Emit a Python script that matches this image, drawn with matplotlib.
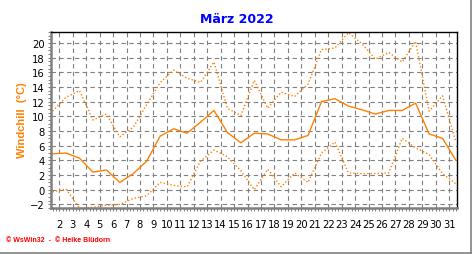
import numpy as np
import matplotlib
matplotlib.use("Agg")
from matplotlib import pyplot as plt
from matplotlib.ticker import MultipleLocator

# windchill per day, maerz 2022
days = np.arange(1, 32)
wc_mean = [4.9, 5.0, 4.3, 2.4, 2.7, 1.0, 2.2, 3.9, 7.3, 8.3, 7.7, 9.2, 10.8, 7.8, 6.4, 7.7,
           7.6, 6.8, 6.8, 7.4, 12.0, 12.4, 11.4, 10.9, 10.3, 10.8, 10.8, 11.8, 7.6, 7.0, 4.0]
wc_max = [10.7, 12.6, 13.5, 9.5, 10.3, 7.2, 8.5, 11.6, 14.6, 16.3, 15.2, 14.6, 17.4, 11.1, 10.1, 14.9,
          11.1, 13.3, 12.7, 14.4, 19.1, 19.3, 21.4, 19.9, 17.8, 18.7, 17.4, 20.2, 10.7, 12.8, 6.5]
wc_min = [-0.3, 0.1, -2.5, -2.4, -2.1, -2.0, -1.2, -0.8, 1.0, 0.6, 0.4, 3.9, 5.4, 4.5, 2.6, 0.0,
          2.8, 0.4, 2.3, 1.0, 5.0, 6.5, 2.3, 2.2, 2.2, 2.3, 7.0, 5.7, 4.8, 2.2, 0.8]
tick_days = days[1:]
y_ticks = np.arange(-2, 21, 2)

orange = '#ff8000'
gray = '#808080'

fig = plt.figure(figsize=(4.72, 2.55), dpi=100)
ax = fig.add_axes([0.108, 0.180, 0.860, 0.691])

ax.plot(days, wc_max, color=orange, lw=1.0, ls=(0, (1, 1.5)))
ax.plot(days, wc_min, color=orange, lw=1.0, ls=(0, (1, 1.5)))
ax.plot(days, wc_mean, color=orange, lw=1.0)

ax.set_xlim(0.88, 31.07)
ax.set_ylim(-2.5, 21.5)

# labels sit on the day boundaries
ax.set_xticks(tick_days - 0.5)
ax.set_xticklabels([str(d) for d in tick_days])
ax.xaxis.set_minor_locator(MultipleLocator(0.25))
ax.set_yticks(y_ticks)
ax.yaxis.set_minor_locator(MultipleLocator(0.5))

ax.grid(True, which='major', color=gray, lw=0.8, ls=(0, (4, 3)))
ax.set_axisbelow(True)

ax.tick_params(axis='both', which='major', labelsize=7.2, length=2.5, color=gray, width=0.8)
ax.tick_params(axis='both', which='minor', length=2, color=gray, width=0.7)
ax.tick_params(axis='x', which='major', pad=5.5)
ax.tick_params(axis='y', which='major', pad=2)

for s in ['left', 'bottom']:
    ax.spines[s].set_color(gray)
    ax.spines[s].set_linewidth(1.8)
for s in ['top', 'right']:
    ax.spines[s].set_color('black')
    ax.spines[s].set_linewidth(1.0)

fig.text(0.502, 0.925, 'März 2022', color='#0000ff', fontsize=9, fontweight='bold',
         ha='center', va='center')
fig.text(0.047, 0.53, 'Windchill  (°C)', color=orange, fontsize=8, fontweight='bold',
         family='Liberation Sans', rotation=90, ha='center', va='center')
fig.text(0.013, 0.058, '© WsWin32  -  © Heike Blüdorn', color='#ff0000', fontsize=5,
         fontweight='bold', family='Liberation Sans', ha='left', va='center')

# gray frame at right and bottom edge
fig.add_artist(plt.Line2D([0.998, 0.998], [0.0, 1.0], color=gray, lw=1.2, transform=fig.transFigure))
fig.add_artist(plt.Line2D([0.0, 1.0], [0.003, 0.003], color=gray, lw=1.2, transform=fig.transFigure))

fig.savefig('out.png', dpi=100)
